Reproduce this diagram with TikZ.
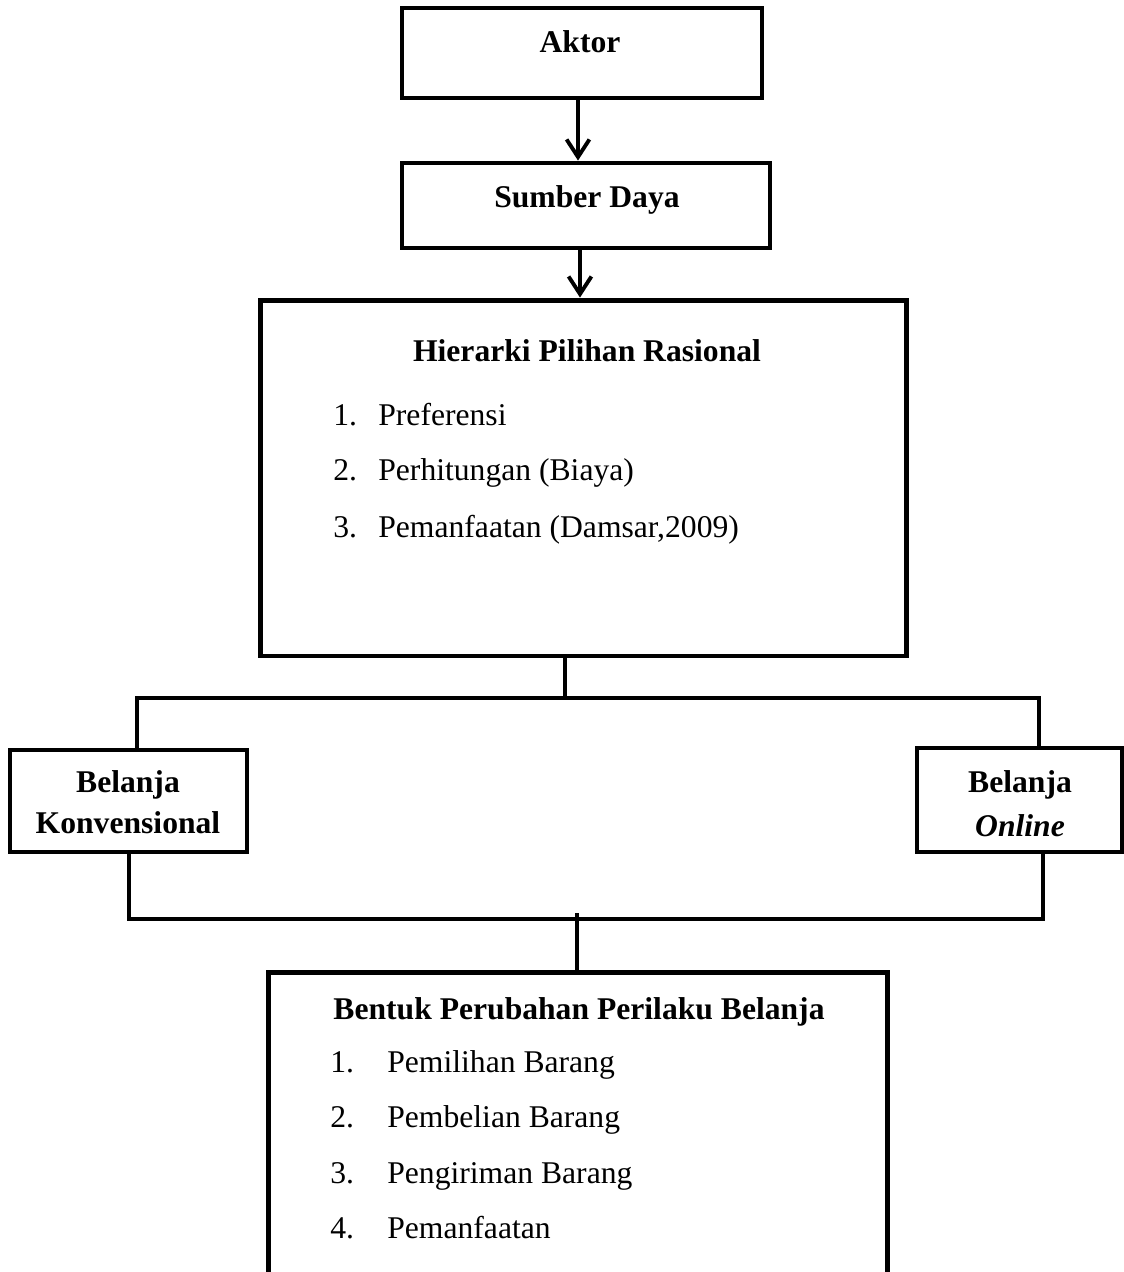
\documentclass[tikz,border=0pt]{standalone}
\usepackage{fontspec}
\setmainfont{Liberation Serif}
\usepackage{tikz}
\usetikzlibrary{arrows.meta, positioning}

\begin{document}
\begin{tikzpicture}[
    x=0.02cm, y=-0.02cm,
    every node/.style={font=\fontsize{18}{22}\selectfont},
    box/.style={rectangle, draw=black, line width=2.8pt, inner sep=0pt},
    head/.style={font=\fontsize{18}{22}\selectfont\bfseries, anchor=base, inner sep=0pt},
    item/.style={anchor=base west, inner sep=0pt},
    flow/.style={-{Straight Barb[length=10pt,width=13pt]}, line width=2.2pt},
    link/.style={line width=2.2pt}
]
\useasboundingbox (0,0) rectangle (1124,1272);

% Boxes
\node[box, minimum width=7.2cm,  minimum height=1.8cm]  (aktor)  at (582,53)    {};
\node[box, minimum width=7.36cm, minimum height=1.7cm]  (sumber) at (586,205.5) {};
\node[box, minimum width=12.94cm, minimum height=7.12cm] (hier)  at (583.5,478) {};
\node[box, minimum width=4.74cm, minimum height=2.04cm] (konv)   at (128.5,801) {};
\node[box, minimum width=4.1cm,  minimum height=2.08cm] (onl)    at (1019.5,800) {};
\node[box, minimum width=12.4cm, minimum height=7.16cm] (bentuk) at (578,1151)  {};

% Titles
\node[head] (taktor)  at (580,52)   {Aktor};
\node[head] (tsumber) at (587,207)  {Sumber Daya};
\node[head] (thier)   at (587,361)  {Hierarki Pilihan Rasional};
\node[head] (tkonv1)  at (128,792)  {Belanja};
\node[head] (tkonv2)  at (128,833)  {Konvensional};
\node[head] (tonl1)   at (1020,792) {Belanja};
\node[head] (tonl2)   at (1020,836) {\itshape Online};
\node[head] (tbentuk) at (579,1019) {Bentuk Perubahan Perilaku Belanja};

% Hierarki list
\node[item] (hn1) at (333,425) {1.};
\node[item] (ht1) at (378,425) {Preferensi};
\node[item] (hn2) at (333,480) {2.};
\node[item] (ht2) at (378,480) {Perhitungan (Biaya)};
\node[item] (hn3) at (333,537) {3.};
\node[item] (ht3) at (378,537) {Pemanfaatan (Damsar,2009)};

% Bentuk list
\node[item] (bn1) at (330,1072) {1.};
\node[item] (bt1) at (387,1072) {Pemilihan Barang};
\node[item] (bn2) at (330,1127) {2.};
\node[item] (bt2) at (387,1127) {Pembelian Barang};
\node[item] (bn3) at (330,1183) {3.};
\node[item] (bt3) at (387,1183) {Pengiriman Barang};
\node[item] (bn4) at (330,1238) {4.};
\node[item] (bt4) at (387,1238) {Pemanfaatan};

% Branch points
\coordinate (split)  at (565,698);
\coordinate (splitL) at (137,698);
\coordinate (splitR) at (1039,698);
\coordinate (joinL)  at (129,919);
\coordinate (joinR)  at (1043,919);
\coordinate (join)   at (577,913);

% Arrows and lines
\draw[flow] (aktor.south -| 578,0) -- (sumber.north -| 578,0);
\draw[flow] (sumber.south -| 580,0) -- (hier.north -| 580,0);
\draw[link] (hier.south -| split) -- (split);
\draw[link] (konv.north -| splitL) -- (splitL) -- (splitR) -- (onl.north -| splitR);
\draw[link] (konv.south -| joinL) -- (joinL) -- (joinR) -- (onl.south -| joinR);
\draw[link] (join) -- (bentuk.north -| join);
\end{tikzpicture}
\end{document}
